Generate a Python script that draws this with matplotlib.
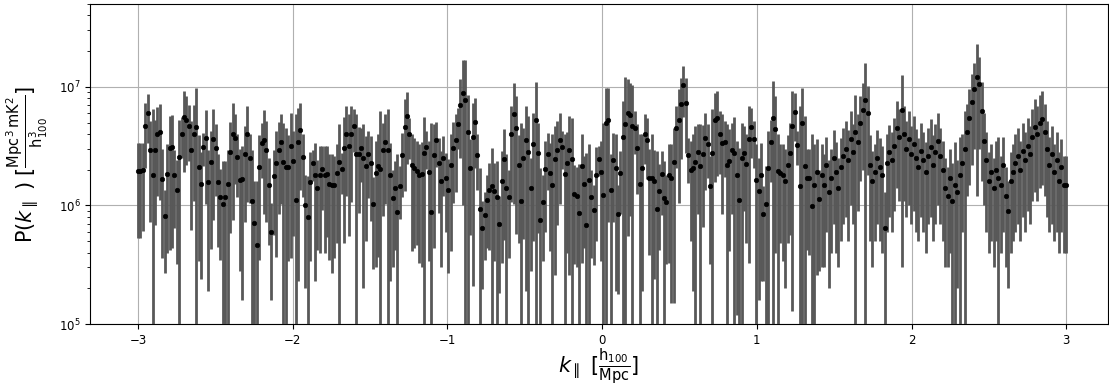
import numpy as np
import matplotlib
matplotlib.use('Agg')
import matplotlib.pyplot as plt

# P(k_par), in units of 1e6 mK^2 Mpc^3 / h^3
p = [
    # k ~ -3.0 .. -2.45
    1.95, 1.95, 1.99, 4.66, 6.04, 2.96, 1.80, 2.96, 3.97, 4.15, 1.68, 0.81, 1.85, 3.04, 3.12,
    1.80, 1.36, 2.57, 4.04, 5.55, 5.27, 4.66, 2.91, 4.04, 4.57, 2.12, 1.52, 3.12, 3.69, 1.57,
    2.33, 3.60, 3.04, 1.57, 1.18,
    # -2.45 .. -1.90
    1.03, 1.18, 1.52, 2.83, 4.04, 3.69, 2.57, 1.64, 1.68, 2.69, 3.97, 2.51, 1.10, 0.71, 0.463,
    2.12, 3.33, 3.58, 2.96, 1.48, 0.60, 1.76, 2.30, 2.96, 3.44, 2.33, 2.12, 2.12, 3.20, 2.39,
    1.12, 3.44, 4.34, 2.57, 1.00,
    # -1.90 .. -1.35
    0.792, 1.57, 2.29, 1.80, 1.41, 1.80, 2.04, 1.80, 1.85, 1.52, 1.48, 1.48, 1.89, 2.33, 2.02,
    3.04, 4.04, 3.20, 3.97, 4.66, 2.73, 2.73, 3.04, 2.51, 2.17, 2.69, 2.29, 1.02, 1.89, 2.17,
    2.02, 2.91, 3.44, 2.91, 1.80, 1.15,
    # -1.35 .. -0.80
    1.39, 0.879, 1.46, 2.64, 4.57, 5.66, 3.97, 2.19, 2.08, 1.97, 1.80, 1.85, 2.78, 3.12, 1.91,
    0.884, 2.66, 3.58, 2.29, 1.60, 2.52, 1.69, 1.36, 2.19, 3.06, 3.58, 4.82, 7.01, 8.84, 7.72,
    4.15, 2.08, 3.77, 5.04, 2.66,
    # -0.80 .. -0.25
    0.937, 0.648, 0.823, 1.12, 1.36, 1.46, 1.32, 1.18, 0.692, 1.60, 2.44, 1.39, 1.18, 3.97, 5.92,
    4.46, 2.19, 1.10, 2.51, 3.53, 2.83, 1.39, 3.27, 5.27, 2.78, 0.752, 1.07, 2.04, 2.73, 1.89,
    1.49, 2.46, 2.91, 3.53, 3.12, 1.85,
    # -0.25 .. 0.30
    2.30, 2.96, 2.46, 1.26, 1.20, 0.862, 2.15, 1.52, 0.678, 1.64, 1.18, 0.908, 1.80, 2.46, 1.91,
    1.23, 4.91, 5.27, 1.36, 2.41, 2.08, 0.840, 1.86, 3.77, 4.82, 6.04, 5.81, 4.69, 4.48, 3.04,
    1.53, 2.08, 4.04, 3.58, 1.69,
    # 0.30 .. 0.85
    1.71, 1.60, 0.925, 1.32, 1.85, 1.15, 1.07, 1.80, 1.71, 2.33, 4.46, 5.27, 7.19, 10.26, 7.33,
    2.64, 1.99, 2.08, 2.33, 2.83, 2.17, 2.73, 3.69, 3.27, 1.46, 2.78, 5.24, 5.48, 4.04, 3.35,
    3.44, 2.19, 2.39, 2.91, 2.78,
    # 0.85 .. 1.40
    1.80, 1.12, 2.51, 2.78, 2.24, 3.60, 4.57, 3.60, 1.65, 1.33, 1.80, 0.840, 1.02, 2.08, 3.44,
    5.41, 4.37, 1.95, 1.89, 1.82, 1.60, 2.19, 2.78, 4.66, 6.16, 3.22, 1.46, 4.94, 2.17, 1.71,
    1.69, 0.98, 1.48, 1.93, 1.14,
    # 1.40 .. 3.0
    1.8, 1.5, 2.2, 1.3, 1.7, 2.5, 1.9, 1.4, 2.1, 2.6,
    3.0, 2.4, 3.6, 2.8, 4.2, 3.4, 5.0, 6.4, 7.8, 6.0,
    2.2, 1.6, 1.9, 2.5, 2.1, 1.8, 0.65, 2.3, 2.8, 2.4,
    3.2, 4.5, 3.8, 6.4, 4.0, 3.0, 3.6, 2.7, 3.3, 2.5,
    2.1, 2.9, 2.4, 1.9, 2.6, 3.1, 2.2, 2.8, 3.5, 2.6,
    2.0, 1.4, 1.2, 1.7, 1.1, 1.5, 1.3, 1.8, 2.3, 3.0,
    4.2, 5.5, 7.5, 9.5, 12.1, 10.5, 6.3, 3.5, 2.4, 1.6, 1.9,
    1.4, 2.0, 1.7, 1.5, 2.2, 1.2, 0.9, 1.6, 1.9, 2.3,
    2.6, 2.0, 2.9, 2.4, 3.2, 2.7, 3.8, 4.6, 4.0, 5.0,
    5.4, 4.2, 3.0, 2.2, 2.7, 1.9, 2.4, 1.6, 2.1, 1.5, 1.5,
]

# upper end of each error bar (same units); bars are symmetric
p_hi = [
    3.37, 3.37, 3.37, 7.24, 8.73, 5.20, 6.44, 5.24, 6.74, 7.19, 3.00, 1.35, 3.30, 5.66, 5.80,
    2.96, 2.40, 5.30, 5.55, 9.19, 8.34, 6.96, 5.20, 7.00, 9.68, 3.90, 2.80, 4.10, 6.36, 2.95,
    4.23, 6.44, 4.88, 2.69, 2.01,
    2.36, 2.36, 2.96, 5.07, 7.33, 5.85, 3.97, 3.00, 3.20, 4.66, 6.87, 3.97, 2.96, 1.60, 1.60,
    3.89, 4.97, 6.32, 5.20, 2.50, 1.04, 2.96, 4.23, 5.07, 5.85, 4.97, 4.51, 3.90, 6.04, 4.23,
    5.85, 6.65, 7.33, 3.97, 1.80,
    1.77, 2.80, 2.96, 3.37, 2.40, 3.20, 3.16, 3.20, 3.16, 2.69, 2.69, 2.60, 3.30, 4.82, 2.78,
    5.60, 6.87, 5.85, 6.87, 6.50, 5.85, 4.60, 4.51, 4.82, 3.84, 4.23, 3.84, 1.75, 3.48, 3.97,
    6.24, 5.00, 5.85, 6.44, 3.37, 2.00,
    2.36, 2.69, 2.15, 4.10, 7.82, 9.07, 5.48, 3.97, 3.72, 3.48, 3.27, 3.40, 5.55, 4.23, 3.48,
    4.97, 4.88, 5.07, 3.72, 2.90, 3.84, 2.78, 2.45, 3.97, 5.07, 5.85, 6.65, 11.53, 16.67, 16.67,
    8.50, 3.60, 7.33, 8.00, 3.97,
    2.08, 1.10, 1.30, 1.80, 2.30, 3.06, 2.30, 2.36, 1.20, 2.87, 4.37, 2.69, 2.00, 6.87, 10.81,
    8.34, 3.90, 4.97, 4.50, 6.87, 5.66, 2.50, 6.04, 11.02, 4.97, 2.08, 1.80, 3.48, 4.10, 3.37,
    3.97, 4.66, 5.14, 6.04, 4.23, 3.97,
    4.20, 5.66, 5.48, 2.20, 2.10, 2.22, 3.97, 2.60, 2.78, 3.27, 2.00, 1.50, 3.10, 3.16, 3.48,
    4.97, 9.81, 9.81, 2.69, 4.10, 3.97, 1.50, 2.87, 7.57, 12.06, 11.53, 10.81, 10.46, 6.24, 4.82,
    3.97, 3.97, 5.85, 5.48, 3.00,
    3.97, 2.96, 2.87, 2.22, 2.87, 2.36, 1.82, 3.27, 3.27, 4.51, 6.87, 9.50, 11.91, 14.94, 11.91,
    3.72, 3.48, 3.97, 4.66, 4.82, 4.82, 4.80, 6.04, 4.82, 2.60, 6.44, 8.90, 9.19, 6.24, 5.85,
    5.14, 4.82, 4.37, 4.97, 5.60,
    3.48, 3.06, 4.97, 4.66, 4.00, 6.87, 6.65, 5.14, 3.27, 2.50, 3.37, 1.45, 2.15, 4.23, 5.30,
    11.16, 8.34, 3.97, 3.30, 3.30, 3.00, 3.90, 5.00, 9.19, 8.80, 4.23, 6.87, 9.81, 5.66, 3.00,
    3.00, 3.97, 3.27, 3.60, 2.00,
    3.3, 2.7, 3.8, 2.4, 3.0, 4.3, 3.4, 2.5, 3.7, 4.5,
    5.2, 4.3, 6.2, 4.9, 8.6, 5.9, 8.4, 10.8, 16.0, 10.2,
    3.9, 2.9, 3.3, 4.3, 3.7, 3.2, 1.3, 4.0, 4.8, 4.2,
    5.5, 7.6, 6.5, 12.5, 6.9, 5.2, 6.2, 4.7, 5.7, 4.4,
    3.7, 5.0, 4.2, 3.4, 4.5, 5.4, 3.9, 4.9, 6.0, 4.5,
    3.5, 2.5, 2.1, 3.0, 2.3, 3.4, 2.4, 3.8, 4.0, 6.2,
    7.2, 9.5, 12.8, 16.0, 23.0, 18.0, 11.0, 6.0, 4.2, 2.8, 3.3,
    2.5, 3.5, 3.8, 2.6, 3.8, 2.1, 1.6, 2.8, 3.3, 4.0,
    4.5, 3.5, 5.0, 4.2, 5.5, 4.7, 6.5, 7.9, 6.9, 8.6,
    9.3, 7.2, 5.2, 3.8, 4.7, 3.3, 4.2, 2.8, 3.6, 2.6, 2.6,
]

K_MIN, K_MAX = -3.0, 3.0

p = np.array(p) * 1e6
p_hi = np.array(p_hi) * 1e6
k = np.linspace(K_MIN, K_MAX, len(p))
err = p_hi - p

fig = plt.figure(figsize=(11.09, 3.9), dpi=100)
ax = fig.add_axes([0.0812, 0.169, 0.918, 0.821])
ax.set_yscale('log')
ax.errorbar(k, p, yerr=err, fmt='o', color='k', ms=3.3, mew=0.4,
            ecolor='#585858', elinewidth=2.0, capsize=0, zorder=3)
ax.set_xlim(-3.31, 3.27)
ax.set_ylim(1e5, 5e7)
ax.grid(True, which='major', color='#b0b0b0', lw=0.8)
ax.set_axisbelow(True)
ax.tick_params(labelsize=8.5)
ax.set_xlabel(r'$k_\parallel$ [$\frac{\mathrm{h}_{100}}{\mathrm{Mpc}}$]', fontsize=15,
              labelpad=0)
ax.set_ylabel(r'P($k_\parallel$ ) [$\frac{\mathrm{Mpc}^3\,\mathrm{mK}^2}{\mathrm{h}^3_{100}}$]',
              fontsize=15, labelpad=6)
fig.savefig('out.png', dpi=100)
